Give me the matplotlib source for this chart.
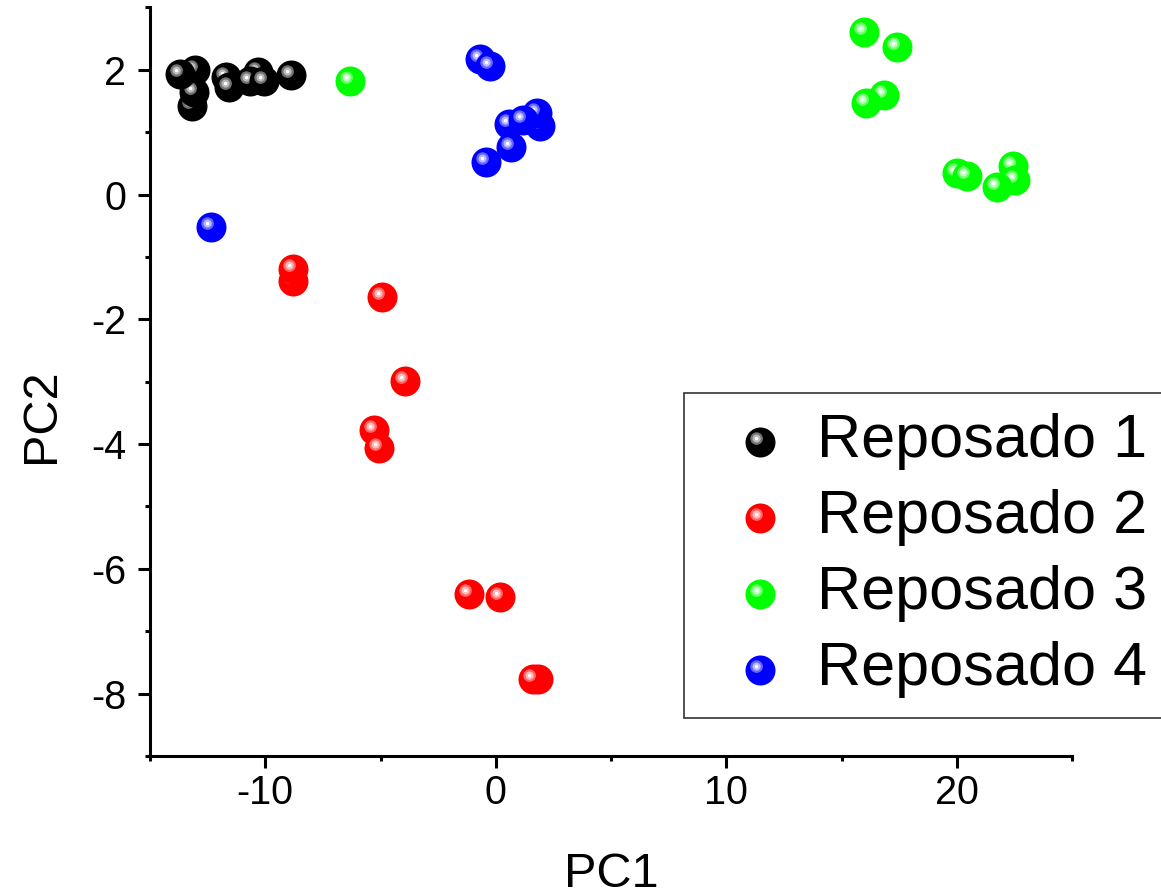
import matplotlib
matplotlib.use("Agg")
import matplotlib.pyplot as plt
from matplotlib.markers import MarkerStyle
from matplotlib.transforms import Affine2D
from matplotlib.legend_handler import HandlerTuple
from matplotlib.lines import Line2D
from matplotlib.ticker import MultipleLocator
from matplotlib.colors import to_rgb

plt.rcParams['font.family'] = ['Liberation Sans', 'DejaVu Sans']
plt.rcParams['axes.unicode_minus'] = False

# PCA scores per sample group (drawing order within each group)
series_names = ["Reposado 1", "Reposado 2", "Reposado 3", "Reposado 4"]
series_colors = ["#000000", "#FF0000", "#00FF00", "#0000FF"]

rep1_pc1 = [-13.03, -13.16, -13.07, -13.68, -11.72, -10.33, -11.59, -10.64, -10.07, -8.90]
rep1_pc2 = [2.00, 1.42, 1.65, 1.94, 1.89, 1.97, 1.73, 1.82, 1.82, 1.92]

rep2_pc1 = [-8.80, -8.80, -4.94, -3.94, -5.28, -5.07, -1.16, 0.18, 1.85, 1.61]
rep2_pc2 = [-1.38, -1.19, -1.64, -2.98, -3.77, -4.06, -6.40, -6.45, -7.76, -7.76]

rep3_pc1 = [-6.32, 15.98, 17.41, 16.84, 16.06, 20.00, 20.45, 22.44, 22.53, 21.75]
rep3_pc2 = [1.82, 2.61, 2.37, 1.60, 1.47, 0.35, 0.30, 0.46, 0.24, 0.125]

rep4_pc1 = [-12.36, 1.92, 1.79, 0.57, 1.18, 0.66, -0.43, -0.68, -0.25]
rep4_pc2 = [-0.52, 1.10, 1.31, 1.13, 1.20, 0.77, 0.53, 2.18, 2.06]

x_ticks = [-10, 0, 10, 20]
y_ticks = [-8, -6, -4, -2, 0, 2]

groups = [(rep1_pc1, rep1_pc2), (rep2_pc1, rep2_pc2),
          (rep3_pc1, rep3_pc2), (rep4_pc1, rep4_pc2)]

MS = 21.6  # marker diameter in points


def tint(color, amount):
    r, g, b = to_rgb(color)
    return (r + (1 - r) * amount, g + (1 - g) * amount, b + (1 - b) * amount)


def sphere_layers(color, shift=0.0):
    """Marker styles and colours giving a glossy sphere look."""
    hx, hy = -0.13, 0.13 + shift
    base_tint = 0.45 if color == "#000000" else 0.4
    mid_tint = 0.72
    return [
        (MarkerStyle('o', transform=Affine2D().translate(0, shift)), color),
        (MarkerStyle('o', transform=Affine2D().scale(0.42).translate(hx, hy)),
         tint(color, base_tint)),
        (MarkerStyle('o', transform=Affine2D().scale(0.27).translate(hx, hy)),
         tint(color, mid_tint)),
        (MarkerStyle('o', transform=Affine2D().scale(0.12).translate(hx, hy)),
         (1, 1, 1)),
    ]


fig = plt.figure(figsize=(11.61, 8.96), dpi=100)
ax = fig.add_axes([150 / 1161, 1 - 756 / 896, (1072 - 150) / 1161, (756 - 7.5) / 896])

z = 2.0
for (xs, ys), color in zip(groups, series_colors):
    layers = sphere_layers(color)
    for x, y in zip(xs, ys):
        for k, (mk, c) in enumerate(layers):
            ax.plot([x], [y], linestyle='none', marker=mk, markersize=MS,
                    markerfacecolor=c, markeredgewidth=0, zorder=z + k * 0.001)
        z += 0.01

ax.set_xlim(-15, 25)
ax.set_ylim(-9, 3)
ax.set_xticks(x_ticks)
ax.set_yticks(y_ticks)
ax.xaxis.set_minor_locator(MultipleLocator(5))
ax.yaxis.set_minor_locator(MultipleLocator(1))

for side in ("top", "right"):
    ax.spines[side].set_visible(False)
for side in ("left", "bottom"):
    ax.spines[side].set_linewidth(2.2)

ax.tick_params(axis='both', which='major', direction='out', length=8.6, width=2.2,
               labelsize=28.5)
ax.tick_params(axis='both', which='minor', direction='out', length=3.8, width=2.2)
ax.tick_params(axis='x', which='major', pad=4.5)
ax.tick_params(axis='y', which='major', pad=8.5)

ax.set_xlabel("PC1", fontsize=35, labelpad=29)
ax.set_ylabel("PC2", fontsize=35)
ax.yaxis.set_label_coords(-0.093, 0.455)

handles = []
for color in series_colors:
    parts = tuple(Line2D([], [], linestyle='none', marker=mk, markersize=MS,
                         markerfacecolor=c, markeredgewidth=0)
                  for mk, c in sphere_layers(color, shift=-0.2))
    handles.append(parts)

leg = ax.legend(handles, series_names, loc='upper left',
                bbox_to_anchor=(684 / 1161, 1 - 393 / 896),
                bbox_transform=fig.transFigure, borderaxespad=0,
                handler_map={tuple: HandlerTuple(ndivide=1, pad=0)},
                numpoints=1, fontsize=44, frameon=True, fancybox=False,
                framealpha=1, edgecolor='#333333', handlelength=1.84,
                handletextpad=0.0, borderpad=0.33, labelspacing=0.31)
leg.get_frame().set_linewidth(1.2)

fig.savefig("out.png", dpi=100)
